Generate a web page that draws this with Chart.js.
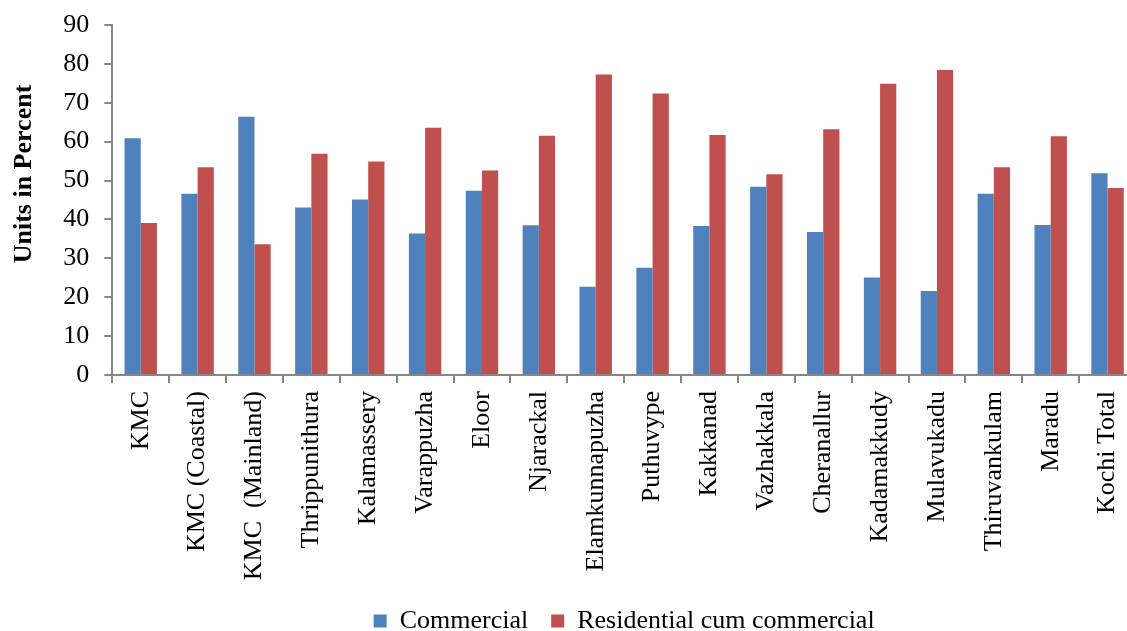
<!DOCTYPE html>
<html lang="en">
<head>
  <meta charset="UTF-8" />
  <title>Units in Percent - Kochi</title>
  <script src="https://cdn.jsdelivr.net/npm/chart.js"></script>
  <style>
    html, body {
      margin: 0;
      padding: 0;
      background: #fff;
      overflow: hidden;
    }
  </style>
</head>

<body>
  <canvas id="grafico" width="1136" height="644"></canvas>

  <script>
    const locais = [
      "KMC", "KMC (Coastal)", "KMC  (Mainland)", "Thrippunithura", "Kalamassery",
      "Varappuzha", "Eloor", "Njarackal", "Elamkunnapuzha", "Puthuvype",
      "Kakkanad", "Vazhakkala", "Cheranallur", "Kadamakkudy", "Mulavukadu",
      "Thiruvankulam", "Maradu", "Kochi Total"
    ];
    const comercial = [
      60.9, 46.6, 66.4, 43.1, 45.1, 36.4, 47.4, 38.5, 22.7,
      27.6, 38.3, 48.4, 36.8, 25.1, 21.6, 46.6, 38.6, 51.9
    ];
    const residencialComercial = [
      39.1, 53.4, 33.6, 56.9, 54.9, 63.6, 52.6, 61.5, 77.3,
      72.4, 61.7, 51.6, 63.2, 74.9, 78.4, 53.4, 61.4, 48.1
    ];
    const yMin = 0;
    const yMax = 90;
    const yPasso = 10;

    const fonte = "'Liberation Serif', 'Times New Roman', serif";
    const cinzaEixo = "#868686";

    const ctx = document.getElementById("grafico").getContext("2d");

    new Chart(ctx, {
      type: "bar",
      data: {
        labels: locais,
        datasets: [
          {
            label: "Commercial",
            data: comercial,
            backgroundColor: "#4F81BD",
          },
          {
            label: "Residential cum commercial",
            data: residencialComercial,
            backgroundColor: "#C0504D",
          },
        ],
      },
      options: {
        responsive: false,
        animation: false,
        categoryPercentage: 0.57,
        barPercentage: 1,
        layout: {
          padding: { top: 25, left: 4.5, right: 0, bottom: 0 },
        },
        scales: {
          x: {
            border: { color: cinzaEixo, width: 2 },
            grid: {
              drawOnChartArea: false,
              drawTicks: true,
              tickLength: 8,
              color: cinzaEixo,
              lineWidth: 2,
            },
            ticks: {
              color: "black",
              autoSkip: false,
              minRotation: 90,
              maxRotation: 90,
              padding: 8,
              font: { family: fonte, size: 26 },
            },
            // altura fixa para os rótulos girados não serem cortados
            afterFit: (scale) => {
              scale.height = 210;
              scale.paddingLeft = 0;
              scale.paddingRight = 0;
            },
          },
          y: {
            min: yMin,
            max: yMax,
            border: { color: cinzaEixo, width: 2 },
            grid: {
              drawOnChartArea: false,
              drawTicks: true,
              tickLength: 8,
              color: cinzaEixo,
              lineWidth: 2,
            },
            ticks: {
              stepSize: yPasso,
              color: "black",
              padding: 15,
              font: { family: fonte, size: 26 },
            },
            title: {
              display: true,
              text: "        Units in Percent",
              color: "black",
              font: { family: fonte, size: 26, weight: "bold" },
            },
            afterFit: (scale) => {
              scale.width = 107.8;
              scale.paddingTop = 0;
              scale.paddingBottom = 0;
            },
          },
        },
        plugins: {
          legend: {
            position: "bottom",
            fullSize: false,
            labels: {
              color: "black",
              boxWidth: 13,
              boxHeight: 13,
              padding: 23,
              font: { family: fonte, size: 26 },
            },
          },
          tooltip: { enabled: false },
        },
      },
    });
  </script>
</body>
</html>
